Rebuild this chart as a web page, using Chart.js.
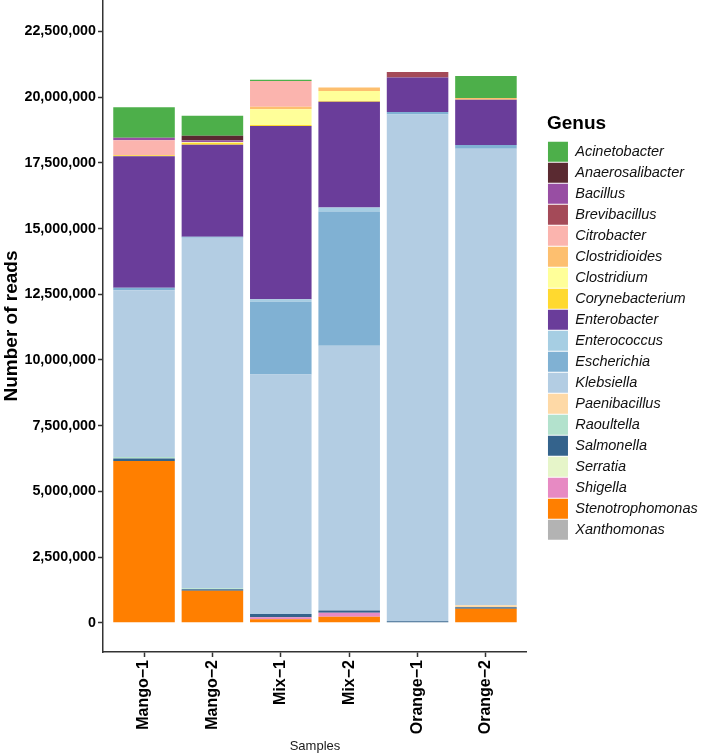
<!DOCTYPE html>
<html>
<head>
<meta charset="utf-8">
<script src="https://cdn.jsdelivr.net/npm/chart.js@4/dist/chart.umd.min.js"></script>
<style>
html,body{margin:0;padding:0;background:#fff;}
#wrap{width:709px;height:755px;position:relative;}
canvas{display:block;}
</style>
</head>
<body>
<div id="wrap"><canvas id="c" width="709" height="755"></canvas></div>
<script>
// ---------- data (reads per sample) ----------
const samples = ['Mango\u22121', 'Mango\u22122', 'Mix\u22121', 'Mix\u22122', 'Orange\u22121', 'Orange\u22122'];

const genera = ['Acinetobacter','Anaerosalibacter','Bacillus','Brevibacillus','Citrobacter','Clostridioides',
  'Clostridium','Corynebacterium','Enterobacter','Enterococcus','Escherichia','Klebsiella','Paenibacillus',
  'Raoultella','Salmonella','Serratia','Shigella','Stenotrophomonas','Xanthomonas'];

const acinetobacter    = [1160000,  760000,   40000,        0,        0,   840000];
const anaerosalibacter = [      0,  180000,       0,        0,        0,        0];
const bacillus         = [  90000,   60000,       0,        0,        0,        0];
const brevibacillus    = [      0,       0,       0,        0,   210000,        0];
const citrobacter      = [ 570000,       0,  980000,        0,        0,        0];
const clostridioides   = [      0,       0,  100000,   130000,        0,    60000];
const clostridium      = [      0,   30000,  600000,   380000,        0,        0];
const corynebacterium  = [  40000,   70000,   40000,    30000,        0,        0];
const enterobacter     = [5010000, 3500000, 6590000,  4030000,  1310000,  1720000];
const enterococcus     = [      0,       0,  100000,   150000,        0,        0];
const escherichia      = [  90000,   40000, 2760000,  5110000,   100000,   150000];
const klebsiella       = [6350000,13340000, 9120000, 10080000, 19280000, 17370000];
const paenibacillus    = [      0,       0,       0,        0,        0,    76000];
const raoultella       = [  60000,   40000,       0,        0,        0,        0];
const salmonella       = [  90000,   50000,  125000,    85000,    60000,    57000];
const serratia         = [      0,       0,       0,        0,        0,        0];
const shigella         = [      0,       0,   76000,   145000,        0,        0];
const stenotrophomonas = [6155000, 1220000,  130000,   230000,        0,   533000];
const xanthomonas      = [      0,       0,       0,        0,        0,        0];

const yTicks = [0, 2500000, 5000000, 7500000, 10000000, 12500000, 15000000, 17500000, 20000000, 22500000];

// ---------- styling ----------
const seriesValues = [acinetobacter, anaerosalibacter, bacillus, brevibacillus, citrobacter, clostridioides,
  clostridium, corynebacterium, enterobacter, enterococcus, escherichia, klebsiella, paenibacillus,
  raoultella, salmonella, serratia, shigella, stenotrophomonas, xanthomonas];

const colors = ['#4DAF4A','#5A2A31','#984EA3','#A44A58','#FBB4AE','#FDBF6F','#FFFF99','#FFD92F','#6A3D9A',
  '#A6CEE3','#80B1D3','#B3CDE3','#FED9A6','#B3E2CD','#34638C','#E6F5C9','#E78AC3','#FF7F00','#B3B3B3'];

const FONT = "'Liberation Sans', Arial, Helvetica, sans-serif";
Chart.defaults.font.family = FONT;

// stacking: first dataset at bottom, so build in reverse alphabetical order
const datasets = [];
for (let g = genera.length - 1; g >= 0; g--) {
  datasets.push({
    label: genera[g],
    data: seriesValues[g].map((v, i) => ({x: i + 1, y: v})),
    backgroundColor: colors[g],
    borderWidth: 0,
    barPercentage: 0.9,
    categoryPercentage: 1.0
  });
}

new Chart(document.getElementById('c'), {
  type: 'bar',
  data: {datasets},
  options: {
    responsive: false,
    animation: false,
    events: [],
    layout: {padding: {left: 0, top: 0, right: 1.25, bottom: 0}},
    plugins: {
      tooltip: {enabled: false},
      legend: {
        position: 'right',
        align: 'start',
        reverse: true,
        title: {
          display: true, text: 'Genus', position: 'start', color: '#000',
          font: {family: FONT, size: 19, weight: 'bold'},
          padding: {top: 114.5, bottom: 3.4}
        },
        labels: {
          boxWidth: 20, boxHeight: 20, padding: 1, color: '#111',
          font: {family: FONT, size: 14.5, style: 'italic'}
        }
      }
    },
    scales: {
      x: {
        type: 'linear',
        min: 0.4, max: 6.6,
        offset: false,
        stacked: true,
        afterBuildTicks: s => { s.ticks = samples.map((_, i) => ({value: i + 1})); },
        afterFit: s => { s.height = 103; },
        ticks: {
          autoSkip: false, minRotation: 90, maxRotation: 90, padding: 3, color: '#000',
          font: {family: FONT, size: 16, weight: 'bold'},
          callback: v => samples[Math.round(v) - 1]
        },
        grid: {display: true, offset: false, drawOnChartArea: false, drawTicks: true, tickLength: 5, tickColor: '#333', tickWidth: 1.5},
        border: {display: true, color: '#333', width: 1.5},
        title: {display: true, text: 'Samples', color: '#1a1a1a', font: {family: FONT, size: 13}, padding: {top: 0, bottom: 1}}
      },
      y: {
        type: 'linear',
        min: -1115000, max: 23700000,
        stacked: true,
        afterBuildTicks: s => { s.ticks = yTicks.map(v => ({value: v})); },
        afterFit: s => { s.width = 103; s.paddingTop = 0; s.paddingBottom = 0; },
        ticks: {
          padding: 2, color: '#000',
          font: {family: FONT, size: 14.3, weight: 'bold'},
          callback: v => Number(v).toLocaleString('en-US')
        },
        grid: {display: true, drawOnChartArea: false, drawTicks: true, tickLength: 5, tickColor: '#333', tickWidth: 1.5},
        border: {display: true, color: '#333', width: 1.5},
        title: {display: true, text: 'Number of reads', color: '#000', font: {family: FONT, size: 19, weight: 'bold'}, padding: {top: 0.5, bottom: 0}}
      },
      y2: {
        type: 'linear',
        position: 'right',
        display: false,
        afterFit: s => { s.width = 20; s.paddingTop = 0; s.paddingBottom = 0; },
        ticks: {display: false},
        grid: {display: false},
        border: {display: false}
      }
    }
  }
});
</script>
</body>
</html>
